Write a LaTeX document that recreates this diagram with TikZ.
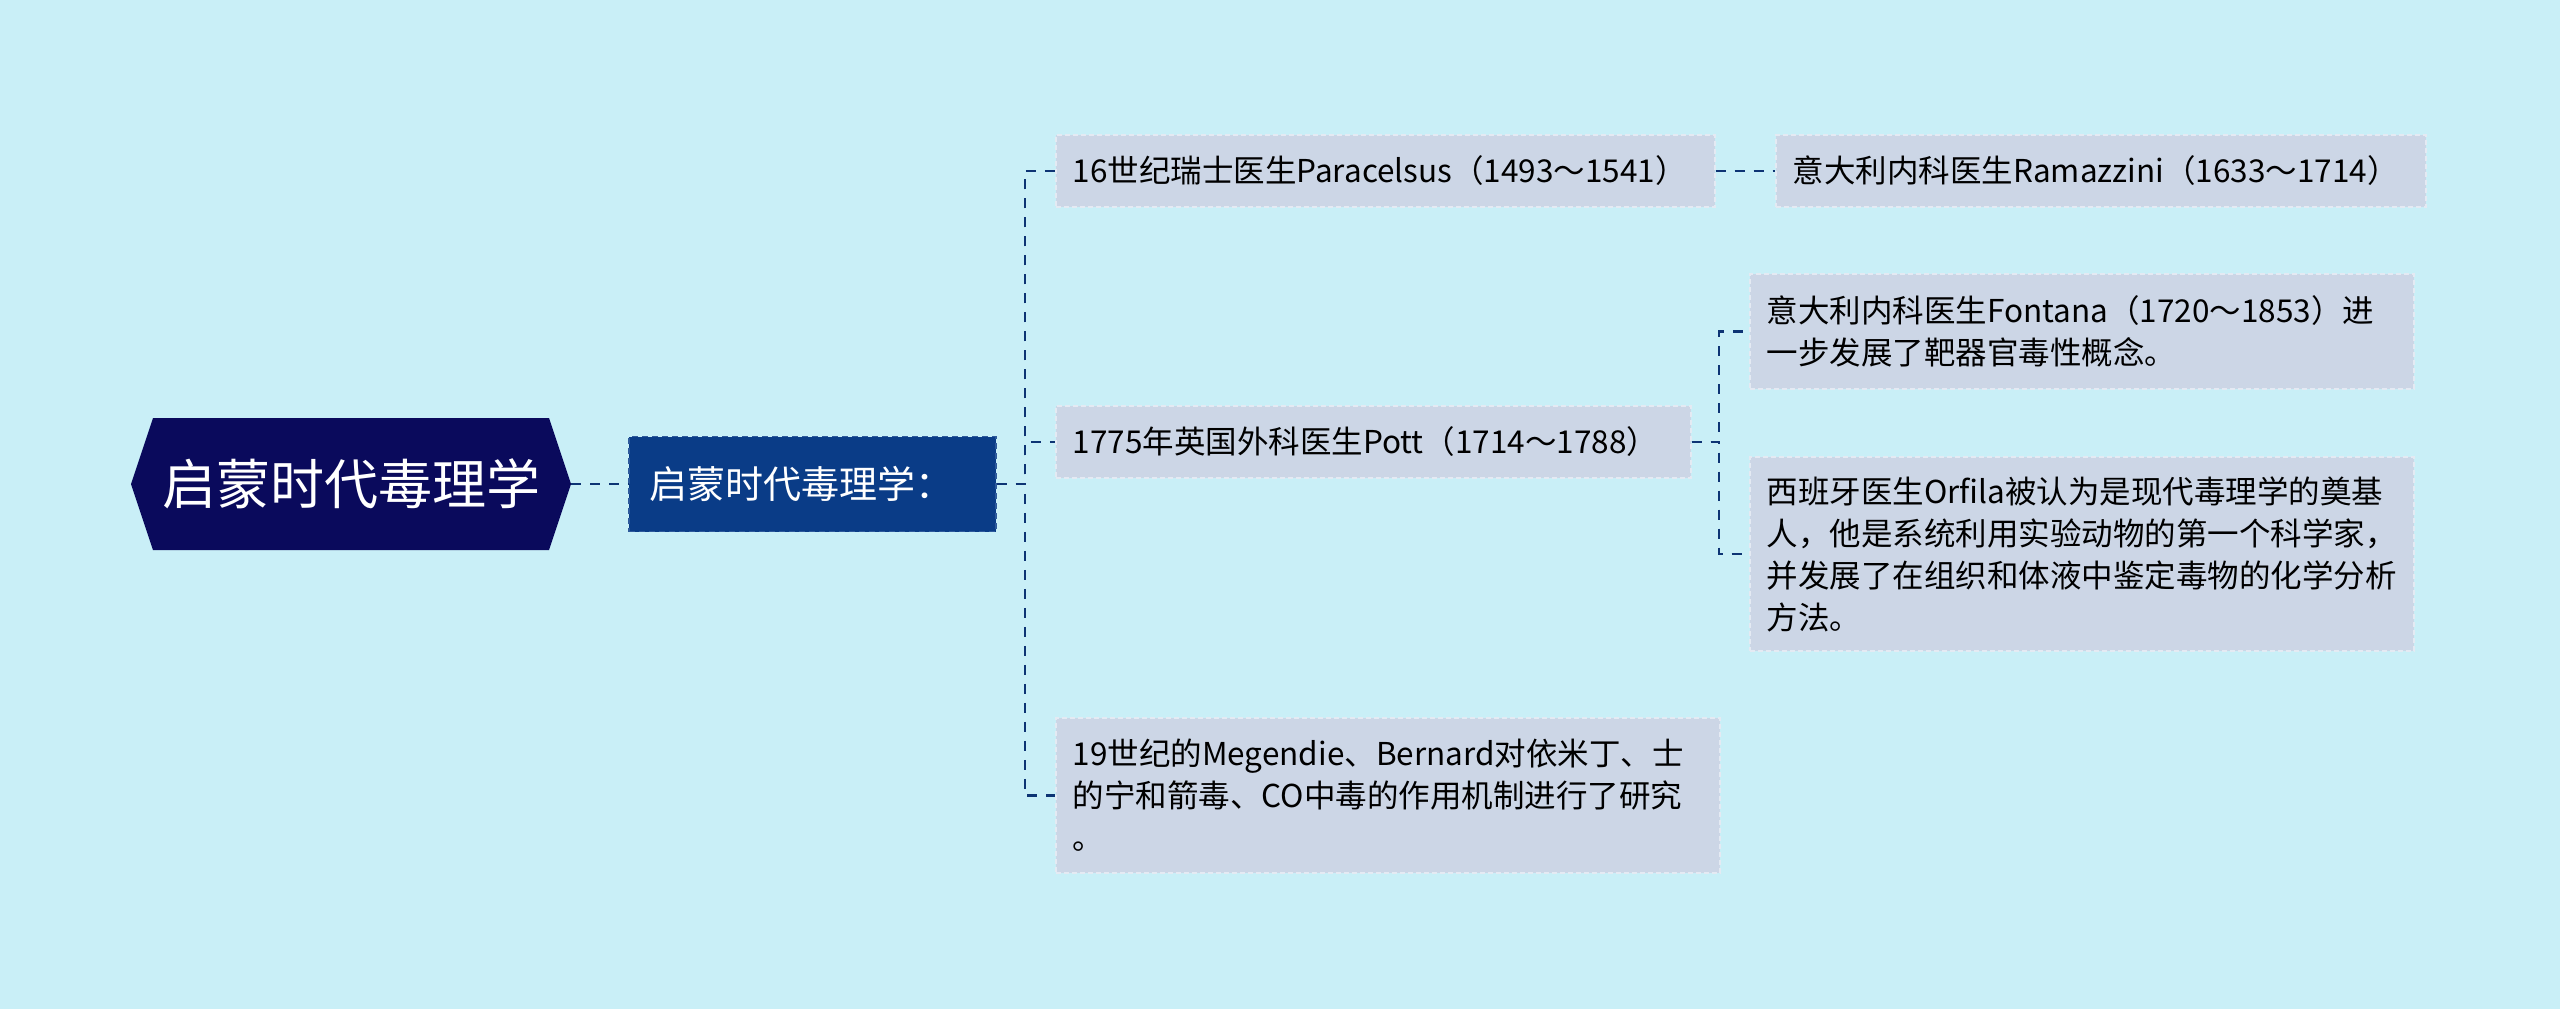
\documentclass[tikz,border=0pt]{standalone}
\usepackage{fontspec}
\setmainfont{Noto Sans CJK SC}
\definecolor{bg}{HTML}{C9EFF7}
\definecolor{rootfill}{HTML}{0A0A5C}
\definecolor{subfill}{HTML}{0A3C87}
\definecolor{subborder}{HTML}{2E5A9C}
\definecolor{nodefill}{HTML}{CCD6E6}
\definecolor{nodeborder}{HTML}{E4EAF3}
\definecolor{linecol}{HTML}{0D3474}
\begin{document}
\begin{tikzpicture}[x=1pt,y=-1pt,
  lvl/.style={rectangle, fill=nodefill, draw=nodeborder, line width=1.5pt,
    dash pattern=on 5pt off 3pt, inner xsep=17pt, inner ysep=0pt,
    align=left, anchor=west, text=black,
    font=\fontsize{31.5}{42}\selectfont},
  subbox/.style={rectangle, fill=subfill, draw=subborder, line width=1.5pt,
    dash pattern=on 6pt off 4pt, inner xsep=20pt, inner ysep=0pt,
    align=left, text width=327pt, minimum height=95pt, text=white,
    font=\fontsize{38}{44}\selectfont},
  rootbox/.style={rectangle, inner sep=0pt, minimum width=440pt,
    minimum height=132pt, text=white, font=\fontsize{54}{60}\selectfont},
  conn/.style={draw=linecol, line width=2.5pt, dash pattern=on 10pt off 9pt}]
\fill[bg] (0,0) rectangle (2560,1009);
\useasboundingbox (0,0) rectangle (2560,1009);

% root hexagon
\fill[rootfill]
  (131,484) -- (153,418) -- (549,418) -- (571,484) -- (549,550) -- (153,550) -- cycle;
\node[rootbox] (root) at (351,484) {启蒙时代毒理学};

\node[subbox] (sub) at (812.5,484) {启蒙时代毒理学：};

\node[lvl, text width=625pt, minimum height=72pt] (A) at (1055,171)
  {16世纪瑞士医生Paracelsus（1493～1541）};
\node[lvl, text width=601pt, minimum height=72pt] (B) at (1055,442)
  {1775年英国外科医生Pott（1714～1788）};
\node[lvl, text width=630pt, minimum height=155pt] (C) at (1055,795.5)
  {19世纪的Megendie、Bernard对依米丁、士\\的宁和箭毒、CO中毒的作用机制进行了研究\\。};

\node[lvl, text width=616pt, minimum height=72pt] (D) at (1775,171)
  {意大利内科医生Ramazzini（1633～1714）};
\node[lvl, text width=630pt, minimum height=115pt] (E) at (1749,331.5)
  {意大利内科医生Fontana（1720～1853）进\\一步发展了靶器官毒性概念。};
\node[lvl, text width=630pt, minimum height=194pt] (F) at (1749,554)
  {西班牙医生Orfila被认为是现代毒理学的奠基\\人，他是系统利用实验动物的第一个科学家，\\并发展了在组织和体液中鉴定毒物的化学分析\\方法。};

\coordinate (j1) at (1025,484);
\coordinate (j2) at (1719,442);

\draw[conn] (root.east) -- (sub.west);
\draw[conn] (sub.east) -- (j1) |- (A.west);
\draw[conn] (sub.east) -- (j1) |- (B.west);
\draw[conn] (sub.east) -- (j1) |- (C.west);
\draw[conn] (A.east) -- (D.west);
\draw[conn] (B.east) -- (j2) |- (E.west);
\draw[conn] (B.east) -- (j2) |- (F.west);
\end{tikzpicture}
\end{document}
